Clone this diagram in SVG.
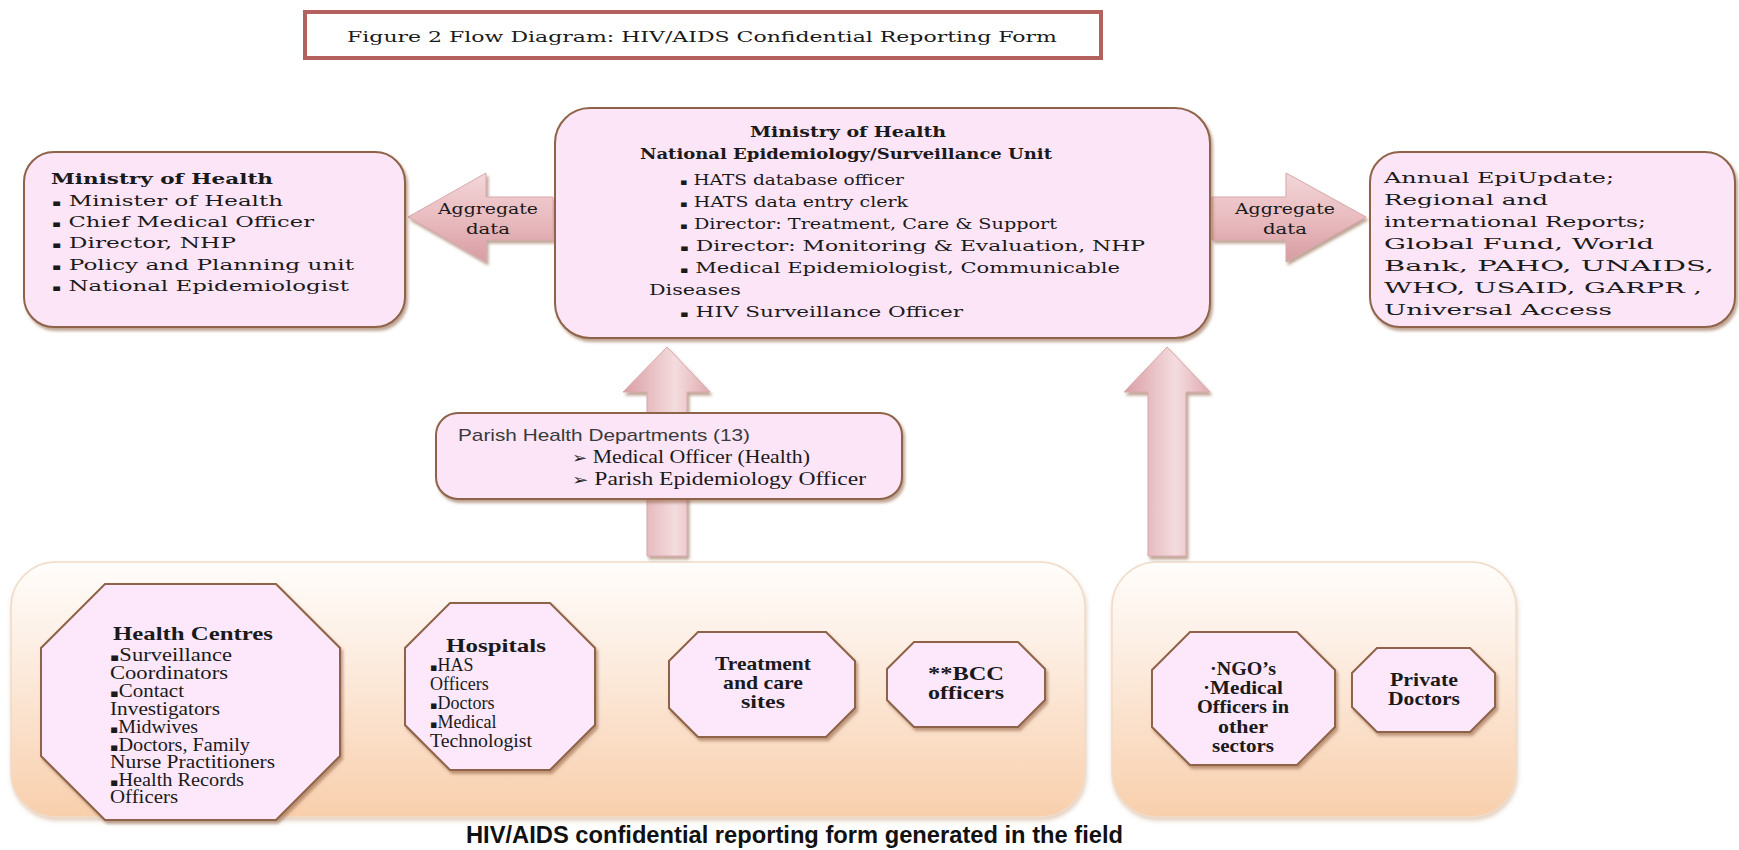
<svg xmlns="http://www.w3.org/2000/svg" width="1739" height="850" viewBox="0 0 1739 850">
  <defs>
    <filter id="sh" x="-10%" y="-10%" width="125%" height="130%">
      <feDropShadow dx="2" dy="3" stdDeviation="1.5" flood-color="#8a5a3a" flood-opacity="0.55"/>
    </filter>
    <filter id="shc" x="-5%" y="-5%" width="110%" height="115%">
      <feDropShadow dx="1" dy="3" stdDeviation="2" flood-color="#c8a080" flood-opacity="0.5"/>
    </filter>
    <linearGradient id="cont" x1="0" y1="0" x2="0" y2="1">
      <stop offset="0" stop-color="#fffdfb"/>
      <stop offset="0.3" stop-color="#fdf0e6"/>
      <stop offset="1" stop-color="#f8cfac"/>
    </linearGradient>
    <linearGradient id="harr" x1="0" y1="0" x2="0" y2="1">
      <stop offset="0" stop-color="#f3d6d9"/>
      <stop offset="0.5" stop-color="#e9bcc0"/>
      <stop offset="1" stop-color="#d79ca2"/>
    </linearGradient>
    <linearGradient id="varr" x1="0" y1="0" x2="1" y2="0">
      <stop offset="0" stop-color="#d99ea5"/>
      <stop offset="0.6" stop-color="#f4dcde"/>
      <stop offset="1" stop-color="#dfaab0"/>
    </linearGradient>
    <style>
      .box{fill:#fce5f7;stroke:#8f6448;stroke-width:2;filter:url(#sh)}
      .oct{fill:#fce8fa;stroke:#8f6448;stroke-width:2;filter:url(#sh)}
      .cont{fill:url(#cont);stroke:#f0dcc8;stroke-width:1.5;filter:url(#shc)}
      .harr{fill:url(#harr);stroke:#d8a8ac;stroke-width:1;filter:url(#sh)}
      .varr{fill:url(#varr);stroke:#d8a8ac;stroke-width:1;filter:url(#sh)}
      .t{font-family:"DejaVu Serif","Liberation Serif",serif;font-size:15px;fill:#1a1a1a}
      .tb{font-family:"DejaVu Serif","Liberation Serif",serif;font-size:15px;font-weight:bold;fill:#1a1a1a}
      .o{font-family:"Liberation Serif","Times New Roman",serif;font-size:18px;fill:#1a1a1a}
      .ob{font-family:"Liberation Serif","Times New Roman",serif;font-size:19px;font-weight:bold;fill:#1a1a1a}
      .s{font-family:"Liberation Sans",Arial,sans-serif;font-size:17px;fill:#3a3a3a}
      .ag{font-family:"DejaVu Serif","Liberation Serif",serif;font-size:15px;fill:#1a1a1a}
      .foot{font-family:"Liberation Sans",Arial,sans-serif;font-size:23px;font-weight:bold;fill:#111}
      .bl{font-size:9px}
      .ob2{font-family:"DejaVu Sans",sans-serif;font-size:11px}
      .arw{font-family:"DejaVu Sans",sans-serif;font-size:15px}
    </style>
  </defs>
  <rect width="1739" height="850" fill="#ffffff"/>

  <g id="title">
    <rect x="305" y="12" width="796" height="46" fill="#ffffff" stroke="#b3615e" stroke-width="4"/>
    <text class="t" x="347" y="42" font-size="19" textLength="710" lengthAdjust="spacingAndGlyphs">Figure 2 Flow Diagram: HIV/AIDS Confidential Reporting Form</text>
  </g>

  <g id="containers">
    <rect id="field-left" class="cont" x="11" y="562" width="1074" height="255" rx="45"/>
    <rect id="field-right" class="cont" x="1112" y="562" width="404" height="255" rx="45"/>
  </g>

  <g id="connectors">
    <path id="arrow-left" class="harr" d="M408,217 L486,173 L486,197 L553,197 L553,240 L486,240 L486,262 Z"/>
    <path id="arrow-right" class="harr" d="M1212,197 L1286,197 L1286,173 L1366,217 L1286,262 L1286,240 L1212,240 Z"/>
    <path id="arrow-up-left" class="varr" d="M667,347 L710,392 L687,392 L687,556 L647,556 L647,392 L623,392 Z"/>
    <path id="arrow-up-right" class="varr" d="M1167,347 L1210,392 L1186,392 L1186,556 L1148,556 L1148,392 L1124,392 Z"/>
    <text class="ag" x="488" y="214" text-anchor="middle" textLength="100" lengthAdjust="spacingAndGlyphs">Aggregate</text>
    <text class="ag" x="488" y="234" text-anchor="middle" textLength="44" lengthAdjust="spacingAndGlyphs">data</text>
    <text class="ag" x="1285" y="214" text-anchor="middle" textLength="100" lengthAdjust="spacingAndGlyphs">Aggregate</text>
    <text class="ag" x="1285" y="234" text-anchor="middle" textLength="44" lengthAdjust="spacingAndGlyphs">data</text>
  </g>

  <g id="moh-left">
    <rect class="box" x="24" y="152" width="381" height="175" rx="30"/>
    <text class="tb" x="51" y="184" textLength="222" lengthAdjust="spacingAndGlyphs">Ministry of Health</text>
    <text class="t" x="52" y="206" textLength="231" lengthAdjust="spacingAndGlyphs"><tspan class="bl">▪</tspan> Minister of Health</text>
    <text class="t" x="52" y="227" textLength="262" lengthAdjust="spacingAndGlyphs"><tspan class="bl">▪</tspan> Chief Medical Officer</text>
    <text class="t" x="52" y="248" textLength="184" lengthAdjust="spacingAndGlyphs"><tspan class="bl">▪</tspan> Director, NHP</text>
    <text class="t" x="52" y="270" textLength="302" lengthAdjust="spacingAndGlyphs"><tspan class="bl">▪</tspan> Policy and Planning unit</text>
    <text class="t" x="52" y="291" textLength="297" lengthAdjust="spacingAndGlyphs"><tspan class="bl">▪</tspan> National Epidemiologist</text>
  </g>

  <g id="moh-central">
    <rect class="box" x="555" y="108" width="655" height="230" rx="35"/>
    <text class="tb" x="848" y="137" text-anchor="middle" textLength="196" lengthAdjust="spacingAndGlyphs">Ministry of Health</text>
    <text class="tb" x="846" y="159" text-anchor="middle" textLength="412" lengthAdjust="spacingAndGlyphs">National Epidemiology/Surveillance Unit</text>
    <text class="t" x="680" y="185" textLength="224" lengthAdjust="spacingAndGlyphs"><tspan class="bl">▪</tspan> HATS database officer</text>
    <text class="t" x="680" y="207" textLength="228" lengthAdjust="spacingAndGlyphs"><tspan class="bl">▪</tspan> HATS data entry clerk</text>
    <text class="t" x="680" y="229" textLength="377" lengthAdjust="spacingAndGlyphs"><tspan class="bl">▪</tspan> Director: Treatment, Care &amp; Support</text>
    <text class="t" x="680" y="251" textLength="465" lengthAdjust="spacingAndGlyphs"><tspan class="bl">▪</tspan> Director: Monitoring &amp; Evaluation,  NHP</text>
    <text class="t" x="680" y="273" textLength="440" lengthAdjust="spacingAndGlyphs"><tspan class="bl">▪</tspan> Medical Epidemiologist, Communicable</text>
    <text class="t" x="649" y="295" textLength="92" lengthAdjust="spacingAndGlyphs">Diseases</text>
    <text class="t" x="680" y="317" textLength="283" lengthAdjust="spacingAndGlyphs"><tspan class="bl">▪</tspan> HIV Surveillance  Officer</text>
  </g>

  <g id="reports">
    <rect class="box" x="1370" y="152" width="365" height="175" rx="30"/>
    <text class="t" x="1384" y="183" textLength="230" lengthAdjust="spacingAndGlyphs">Annual EpiUpdate;</text>
    <text class="t" x="1384" y="205" textLength="164" lengthAdjust="spacingAndGlyphs">Regional and</text>
    <text class="t" x="1384" y="227" textLength="262" lengthAdjust="spacingAndGlyphs">international Reports;</text>
    <text class="t" x="1384" y="249" textLength="270" lengthAdjust="spacingAndGlyphs">Global Fund, World</text>
    <text class="t" x="1384" y="271" textLength="330" lengthAdjust="spacingAndGlyphs">Bank, PAHO, UNAIDS,</text>
    <text class="t" x="1384" y="293" textLength="318" lengthAdjust="spacingAndGlyphs">WHO, USAID, GARPR ,</text>
    <text class="t" x="1384" y="315" textLength="228" lengthAdjust="spacingAndGlyphs">Universal Access</text>
  </g>

  <g id="parish">
    <rect class="box" x="436" y="413" width="466" height="86" rx="22"/>
    <text class="s" x="458" y="441" textLength="292" lengthAdjust="spacingAndGlyphs">Parish Health Departments (13)</text>
    <text class="o" x="572" y="463" font-size="17" textLength="238" lengthAdjust="spacingAndGlyphs"><tspan class="arw">➢</tspan> Medical Officer (Health)</text>
    <text class="o" x="572" y="485" font-size="17" textLength="294" lengthAdjust="spacingAndGlyphs"><tspan class="arw">➢</tspan> Parish Epidemiology Officer</text>
  </g>

  <g id="health-centres">
    <polygon class="oct" points="105,584 276,584 340,648 340,756 276,820 105,820 41,756 41,648"/>
    <text class="ob" x="193" y="640" font-size="20" text-anchor="middle" textLength="160" lengthAdjust="spacingAndGlyphs">Health Centres</text>
    <text class="o" x="110" y="661" textLength="122" lengthAdjust="spacingAndGlyphs"><tspan class="ob2">▪</tspan>Surveillance</text>
    <text class="o" x="110" y="679" textLength="118" lengthAdjust="spacingAndGlyphs">Coordinators</text>
    <text class="o" x="110" y="697" textLength="74" lengthAdjust="spacingAndGlyphs"><tspan class="ob2">▪</tspan>Contact</text>
    <text class="o" x="110" y="715" textLength="110" lengthAdjust="spacingAndGlyphs">Investigators</text>
    <text class="o" x="110" y="733" textLength="88" lengthAdjust="spacingAndGlyphs"><tspan class="ob2">▪</tspan>Midwives</text>
    <text class="o" x="110" y="751" textLength="140" lengthAdjust="spacingAndGlyphs"><tspan class="ob2">▪</tspan>Doctors, Family</text>
    <text class="o" x="110" y="768" textLength="165" lengthAdjust="spacingAndGlyphs">Nurse Practitioners</text>
    <text class="o" x="110" y="786" textLength="134" lengthAdjust="spacingAndGlyphs"><tspan class="ob2">▪</tspan>Health Records</text>
    <text class="o" x="110" y="803" textLength="68" lengthAdjust="spacingAndGlyphs">Officers</text>
  </g>

  <g id="hospitals">
    <polygon class="oct" points="450,603 550,603 595,648 595,725 550,770 450,770 405,725 405,648"/>
    <text class="ob" x="496" y="652" font-size="20" text-anchor="middle" textLength="100" lengthAdjust="spacingAndGlyphs">Hospitals</text>
    <text class="o" x="430" y="671"><tspan class="ob2">▪</tspan>HAS</text>
    <text class="o" x="430" y="690">Officers</text>
    <text class="o" x="430" y="709"><tspan class="ob2">▪</tspan>Doctors</text>
    <text class="o" x="430" y="728"><tspan class="ob2">▪</tspan>Medical</text>
    <text class="o" x="430" y="747" textLength="102" lengthAdjust="spacingAndGlyphs">Technologist</text>
  </g>

  <g id="treatment">
    <polygon class="oct" points="698,632 826,632 855,661 855,708 826,737 698,737 669,708 669,661"/>
    <text class="ob" x="763" y="670" text-anchor="middle" textLength="96" lengthAdjust="spacingAndGlyphs">Treatment</text>
    <text class="ob" x="763" y="689" text-anchor="middle" textLength="80" lengthAdjust="spacingAndGlyphs">and care</text>
    <text class="ob" x="763" y="708" text-anchor="middle" textLength="44" lengthAdjust="spacingAndGlyphs">sites</text>
  </g>

  <g id="bcc">
    <polygon class="oct" points="914,642 1018,642 1045,669 1045,700 1018,727 914,727 887,700 887,669"/>
    <text class="ob" x="966" y="680" text-anchor="middle" textLength="76" lengthAdjust="spacingAndGlyphs">**BCC</text>
    <text class="ob" x="966" y="699" text-anchor="middle" textLength="76" lengthAdjust="spacingAndGlyphs">officers</text>
  </g>

  <g id="ngo">
    <polygon class="oct" points="1190,632 1297,632 1335,670 1335,727 1297,765 1190,765 1152,727 1152,670"/>
    <text class="ob" x="1243" y="675" text-anchor="middle" textLength="66" lengthAdjust="spacingAndGlyphs">·NGO’s</text>
    <text class="ob" x="1243" y="694" text-anchor="middle" textLength="80" lengthAdjust="spacingAndGlyphs">·Medical</text>
    <text class="ob" x="1243" y="713" text-anchor="middle" textLength="92" lengthAdjust="spacingAndGlyphs">Officers in</text>
    <text class="ob" x="1243" y="733" text-anchor="middle" textLength="50" lengthAdjust="spacingAndGlyphs">other</text>
    <text class="ob" x="1243" y="752" text-anchor="middle" textLength="62" lengthAdjust="spacingAndGlyphs">sectors</text>
  </g>

  <g id="private">
    <polygon class="oct" points="1377,648 1470,648 1495,673 1495,707 1470,732 1377,732 1352,707 1352,673"/>
    <text class="ob" x="1424" y="686" text-anchor="middle" textLength="68" lengthAdjust="spacingAndGlyphs">Private</text>
    <text class="ob" x="1424" y="705" text-anchor="middle" textLength="72" lengthAdjust="spacingAndGlyphs">Doctors</text>
  </g>

  <g id="footer">
    <text class="foot" x="466" y="843" textLength="657" lengthAdjust="spacingAndGlyphs">HIV/AIDS confidential reporting form generated in the field</text>
  </g>
</svg>
